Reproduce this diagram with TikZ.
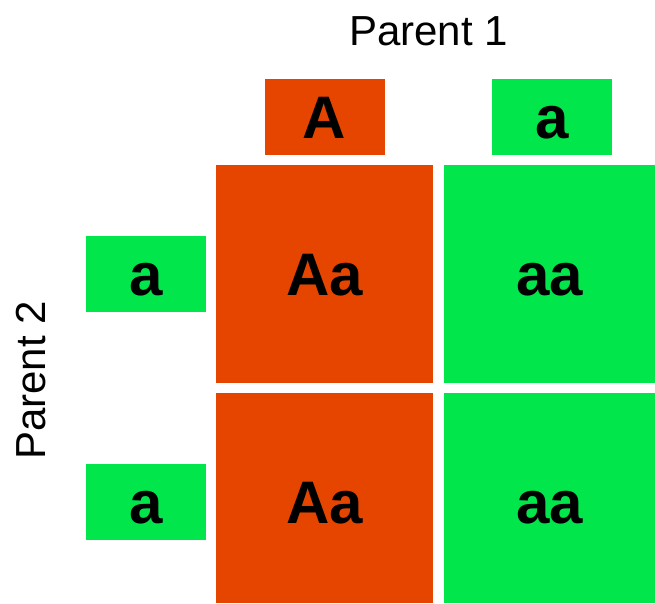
\documentclass[tikz,border=0pt]{standalone}
\usepackage{fontspec}
\setmainfont{Liberation Sans}
\definecolor{domred}{HTML}{E64500}
\definecolor{recgreen}{HTML}{00E64B}
\begin{document}
\begin{tikzpicture}[x=1pt,y=-1pt,
  gene/.style={inner sep=0pt, text height=42pt, text depth=0pt,
    font=\fontsize{60}{60}\selectfont\bfseries},
  allele/.style={gene, minimum width=120pt, minimum height=76pt},
  dom/.style={fill=domred},
  rec/.style={fill=recgreen},
  title/.style={inner sep=0pt, anchor=base, font=\fontsize{42}{42}\selectfont}]
\useasboundingbox (0,0) rectangle (655,603);
% column headings (parent 1 alleles)
\node[allele,dom] (p1A) at (324.5,117) {A};
\node[allele,rec] (p1a) at (552,117) {a};
% row headings (parent 2 alleles)
\node[allele,rec] (p2a1) at (146,274) {a};
\node[allele,rec] (p2a2) at (146,502) {a};
% offspring genotypes
\node[gene,dom,minimum width=217pt,minimum height=218pt] (c11) at (324.5,274) {Aa};
\node[gene,rec,minimum width=211pt,minimum height=218pt] (c12) at (549.5,274) {aa};
\node[gene,dom,minimum width=217pt,minimum height=210pt,text height=50pt] (c21) at (324.5,498) {Aa};
\node[gene,rec,minimum width=211pt,minimum height=210pt,text height=50pt] (c22) at (549.5,498) {aa};
% parent labels
\node[title] (par1) at (428.5,45) {Parent 1};
\node[title,rotate=90] (par2) at (45,380.5) {Parent 2};
\end{tikzpicture}
\end{document}
